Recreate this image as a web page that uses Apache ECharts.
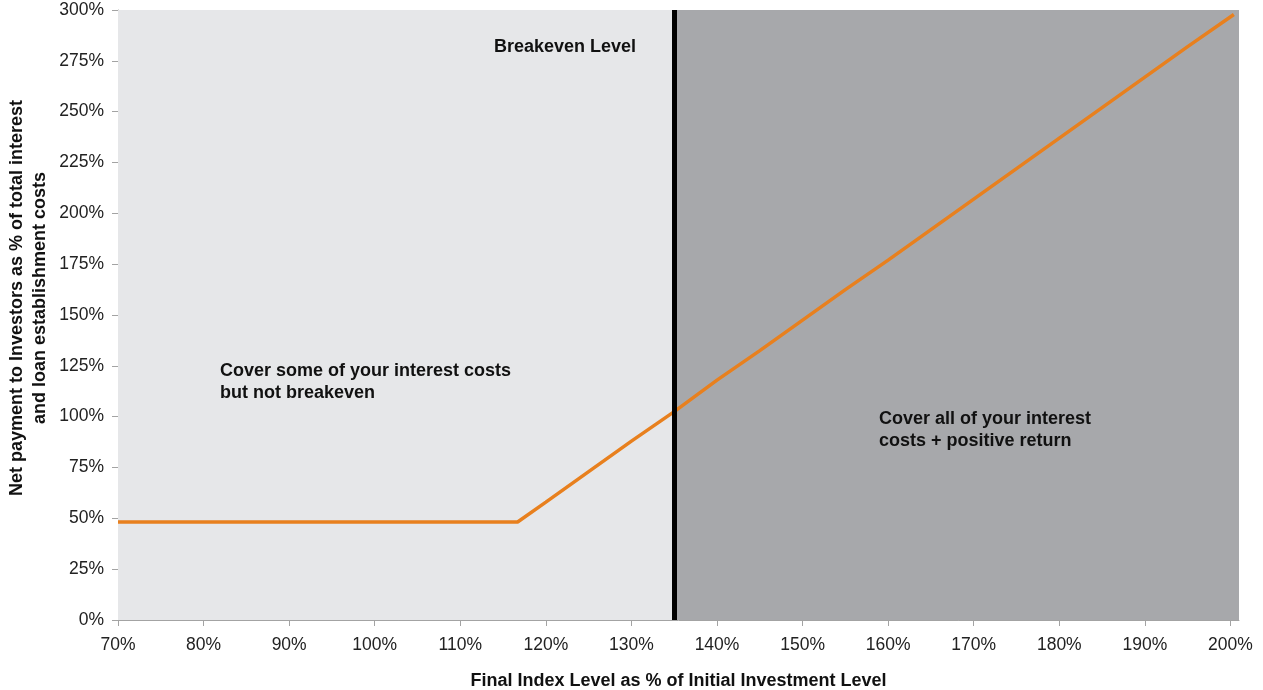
<!DOCTYPE html>
<html>
<head>
<meta charset="utf-8">
<title>Net payment to Investors vs Final Index Level</title>
<script src="https://cdn.jsdelivr.net/npm/echarts@6/dist/echarts.min.js"></script>
<style>
  html, body { margin: 0; padding: 0; background: #ffffff; }
  #chart { width: 1263px; height: 690px; }
</style>
</head>
<body>
<div id="chart"></div>
<script>
// Final index level (% of initial investment level)
const indexLevels = [70, 116.7, 120, 125, 130, 135, 140, 145, 150, 155, 160, 165, 170, 175, 180, 185, 190, 195, 200.4];
// Net payment to investors (% of total interest and loan establishment costs)
const netPayments = [48.2, 48.2, 58, 73, 88, 102.5, 118, 132.5, 147.5, 162.5, 177, 192, 207, 222, 237, 252, 267, 282, 297.8];

const breakevenLevel = 135;
const xTicks = [70, 80, 90, 100, 110, 120, 130, 140, 150, 160, 170, 180, 190, 200];
const yTicks = [0, 25, 50, 75, 100, 125, 150, 175, 200, 225, 250, 275, 300];
const xRange = [70, 201];
const yRange = [0, 300];

const FONT = '"Liberation Sans", Arial, Helvetica, sans-serif';
const lightZone = '#e6e7e9';
const darkZone = '#a7a8ab';
const lineColor = '#e8801e';
const axisGray = '#a3a3a3';

const chart = echarts.init(document.getElementById('chart'), null, { renderer: 'canvas' });

const option = {
  animation: false,
  backgroundColor: '#ffffff',
  grid: { left: 118, right: 24, top: 10, bottom: 70, containLabel: false, outerBoundsMode: 'none' },
  xAxis: {
    type: 'value',
    min: xRange[0],
    max: xRange[1],
    name: 'Final Index Level as % of Initial Investment Level',
    nameLocation: 'middle',
    nameGap: 52,
    nameTextStyle: { fontFamily: FONT, fontSize: 18, fontWeight: 'bold', color: '#111111' },
    axisLine: { show: true, lineStyle: { color: axisGray, width: 1 } },
    axisTick: { show: true, length: 6, lineStyle: { color: axisGray }, customValues: xTicks },
    axisLabel: {
      fontFamily: FONT, fontSize: 17.5, color: '#222222', margin: 16,
      customValues: xTicks,
      formatter: v => v + '%'
    },
    splitLine: { show: false }
  },
  yAxis: {
    type: 'value',
    min: yRange[0],
    max: yRange[1],
    axisLine: { show: true, lineStyle: { color: axisGray, width: 1 } },
    axisTick: { show: true, length: 6, lineStyle: { color: axisGray }, customValues: yTicks },
    axisLabel: {
      fontFamily: FONT, fontSize: 17.5, color: '#222222', margin: 14,
      customValues: yTicks,
      formatter: v => v + '%'
    },
    splitLine: { show: false }
  },
  series: [
    {
      // shaded zones either side of the breakeven level
      type: 'line',
      data: [],
      z: 1,
      silent: true,
      markArea: {
        silent: true,
        itemStyle: { opacity: 1 },
        data: [
          [{ xAxis: xRange[0], itemStyle: { color: lightZone } }, { xAxis: breakevenLevel }],
          [{ xAxis: breakevenLevel, itemStyle: { color: darkZone } }, { xAxis: xRange[1] }]
        ]
      }
    },
    {
      name: 'Net payment',
      type: 'line',
      z: 3,
      data: indexLevels.map((x, i) => [x, netPayments[i]]),
      showSymbol: false,
      symbol: 'none',
      lineStyle: { color: lineColor, width: 3.5 },
      silent: true
    },
    {
      // breakeven marker
      type: 'line',
      data: [],
      z: 5,
      silent: true,
      markLine: {
        silent: true,
        symbol: ['none', 'none'],
        label: { show: false },
        lineStyle: { color: '#000000', width: 5, type: 'solid' },
        data: [{ xAxis: breakevenLevel }]
      }
    }
  ],
  graphic: [
    {
      type: 'text', x: 29, y: 298, rotation: Math.PI / 2, z: 10,
      style: {
        text: 'Net payment to Investors as % of total interest\nand loan establishment costs',
        fontFamily: FONT, fontSize: 18, fontWeight: 'bold', fill: '#111111',
        align: 'center', verticalAlign: 'middle', lineHeight: 23
      }
    },
    {
      type: 'text', x: 494, y: 47, z: 10,
      style: {
        text: 'Breakeven Level',
        fontFamily: FONT, fontSize: 18, fontWeight: 'bold', fill: '#111111',
        align: 'left', verticalAlign: 'middle'
      }
    },
    {
      type: 'text', x: 220, y: 382, z: 10,
      style: {
        text: 'Cover some of your interest costs\nbut not breakeven',
        fontFamily: FONT, fontSize: 18, fontWeight: 'bold', fill: '#111111',
        align: 'left', verticalAlign: 'middle', lineHeight: 22
      }
    },
    {
      type: 'text', x: 879, y: 430, z: 10,
      style: {
        text: 'Cover all of your interest\ncosts + positive return',
        fontFamily: FONT, fontSize: 18, fontWeight: 'bold', fill: '#111111',
        align: 'left', verticalAlign: 'middle', lineHeight: 22
      }
    }
  ]
};

chart.setOption(option);
</script>
</body>
</html>
